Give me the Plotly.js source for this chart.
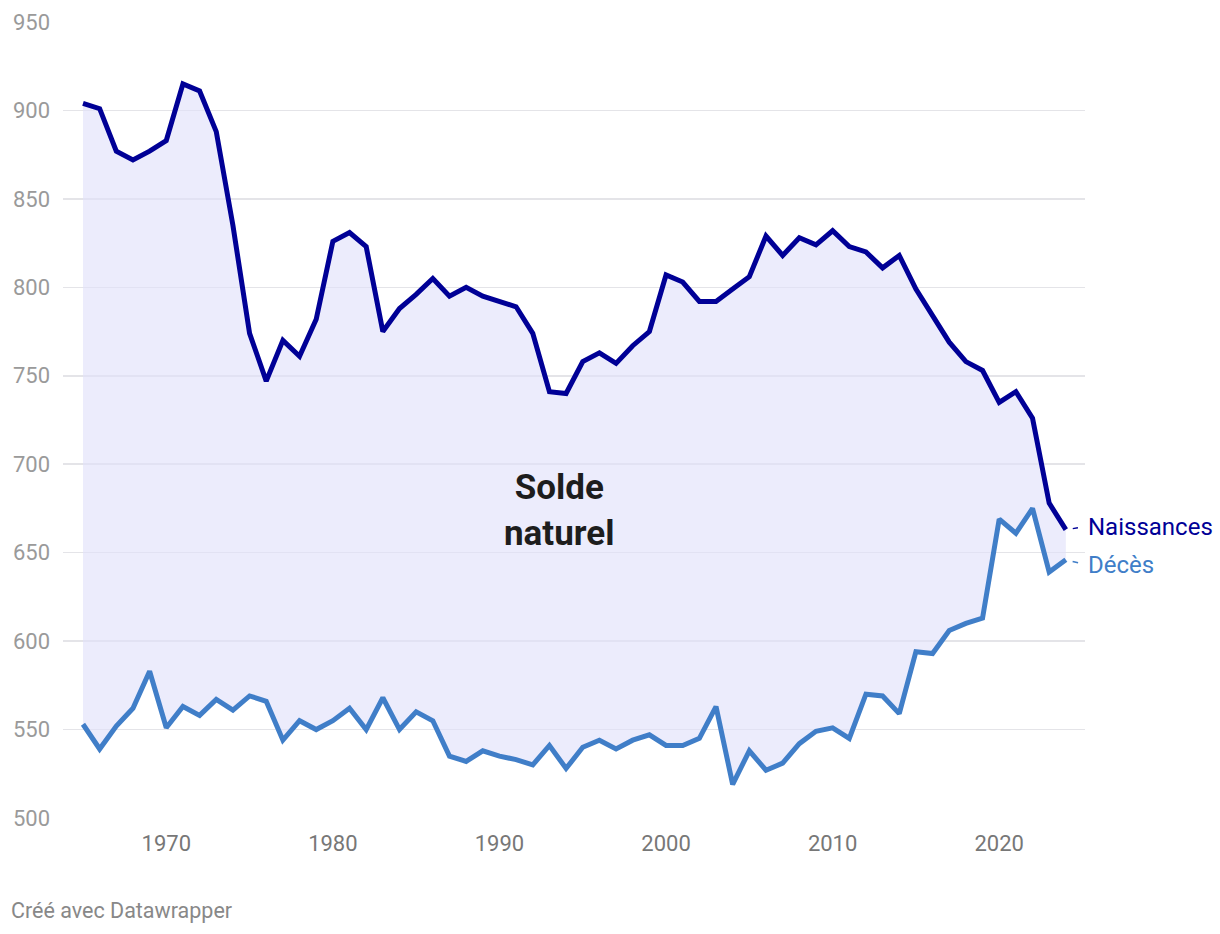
<!DOCTYPE html>
<html>
<head>
<meta charset="utf-8">
<script src="https://cdn.plot.ly/plotly-3.0.1.min.js"></script>
<style>
html,body{margin:0;padding:0;background:#fff;}
#chart{width:1220px;height:934px;}
</style>
</head>
<body>
<div id="chart"></div>
<script>
const years = [1965,1966,1967,1968,1969,1970,1971,1972,1973,1974,1975,1976,1977,1978,1979,1980,1981,1982,1983,1984,1985,1986,1987,1988,1989,1990,1991,1992,1993,1994,1995,1996,1997,1998,1999,2000,2001,2002,2003,2004,2005,2006,2007,2008,2009,2010,2011,2012,2013,2014,2015,2016,2017,2018,2019,2020,2021,2022,2023,2024];
const naissances = [904,901,877,872,877,883,915,911,888,835,774,747,770,761,782,826,831,823,775,788,796,805,795,800,795,792,789,774,741,740,758,763,757,767,775,807,803,792,792,799,806,829,818,828,824,832,823,820,811,818,799,784,769,758,753,735,741,726,678,663];
const deces = [553,539,552,562,583,551,563,558,567,561,569,566,544,555,550,555,562,550,568,550,560,555,535,532,538,535,533,530,541,528,540,544,539,544,547,541,541,545,563,519,538,527,531,542,549,551,545,570,569,559,594,593,606,610,613,669,661,675,639,646];
const yTicks = [500,550,600,650,700,750,800,850,900,950];
const xTicks = [1970,1980,1990,2000,2010,2020];
const seriesNames = ["Naissances","Décès"];
const annoText = "Solde<br>naturel";
const credit = "Créé avec Datawrapper";

const cBirth = "#000096";
const cDeath = "#407ec8";
const font = "Roboto, 'Noto Sans', sans-serif";

const traces = [
  {x: years, y: deces, type: "scatter", mode: "lines", name: seriesNames[1],
   line: {color: cDeath, width: 5}, hoverinfo: "skip"},
  {x: years, y: naissances, type: "scatter", mode: "lines", name: seriesNames[0],
   line: {color: cBirth, width: 5}, fill: "tonexty", fillcolor: "rgba(224,224,250,0.62)", hoverinfo: "skip"}
];

const last = years.length - 1;
const layout = {
  width: 1220, height: 934,
  margin: {l: 63, r: 135, t: 22, b: 116},
  paper_bgcolor: "#fff", plot_bgcolor: "#fff",
  showlegend: false,
  font: {family: font},
  xaxis: {
    range: [1963.8, 2025.15], tickvals: xTicks, ticktext: xTicks.map(String),
    showgrid: false, zeroline: false, showline: false, ticks: "",
    tickfont: {family: font, size: 22, color: "#777"}, ticklabelstandoff: 10, fixedrange: true
  },
  yaxis: {
    range: [500, 950], tickvals: yTicks, ticktext: yTicks.map(String),
    showgrid: true, gridcolor: "#e4e4e8", gridwidth: 1.5, zeroline: false, showline: false, ticks: "",
    tickfont: {family: font, size: 22, color: "#9a9a9a"}, ticklabelstandoff: 12, fixedrange: true
  },
  annotations: [
    {x: years[last], y: naissances[last], xref: "x", yref: "y", text: seriesNames[0],
     showarrow: true, arrowhead: 0, arrowwidth: 1.5, arrowcolor: cBirth, ax: 20, ay: -3,
     standoff: 7, startstandoff: 8, xanchor: "left", yanchor: "middle",
     font: {family: font, size: 24, color: cBirth}},
    {x: years[last], y: deces[last], xref: "x", yref: "y", text: seriesNames[1],
     showarrow: true, arrowhead: 0, arrowwidth: 1.5, arrowcolor: cDeath, ax: 20, ay: 5,
     standoff: 7, startstandoff: 8, xanchor: "left", yanchor: "middle",
     font: {family: font, size: 24, color: cDeath}},
    {x: 1993.6, y: 674, xref: "x", yref: "y", text: "<b>" + annoText + "</b>", showarrow: false,
     xanchor: "center", yanchor: "middle", align: "center",
     font: {family: font, size: 35, color: "#1d1d1d"}},
    {x: 0, y: 0, xref: "paper", yref: "paper", text: credit, showarrow: false,
     xanchor: "left", yanchor: "middle", xshift: -54, yshift: -92,
     font: {family: font, size: 21.5, color: "#888"}}
  ]
};

Plotly.newPlot("chart", traces, layout, {displayModeBar: false, staticPlot: true});
</script>
</body>
</html>
